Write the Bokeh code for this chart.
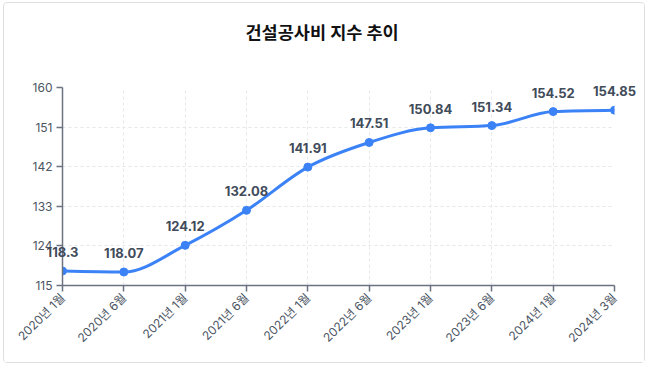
import numpy as np
from bokeh.plotting import figure
from bokeh.models import ColumnDataSource, FixedTicker, Title
from bokeh.core.properties import value
from bokeh.embed import file_html
from bokeh.resources import INLINE

periods = ["2020년 1월", "2020년 6월", "2021년 1월", "2021년 6월", "2022년 1월",
           "2022년 6월", "2023년 1월", "2023년 6월", "2024년 1월", "2024년 3월"]
index_values = [118.3, 118.07, 124.12, 132.08, 141.91, 147.51, 150.84, 151.34, 154.52, 154.85]
y_ticks = [115, 124, 133, 142, 151, 160]
title_text = "건설공사비 지수 추이"

FONT = "Inter, 'Noto Sans CJK KR'"
BLUE = "#3b82f6"

x = np.arange(len(periods), dtype=float)
y = np.array(index_values, dtype=float)

# monotone-x cubic (like d3.curveMonotoneX) tangents
n = len(x)
h = np.diff(x)
s = np.diff(y) / h
t = np.zeros(n)
for i in range(1, n - 1):
    h0, h1 = h[i - 1], h[i]
    s0, s1 = s[i - 1], s[i]
    pp = (s0 * h1 + s1 * h0) / (h0 + h1)
    t[i] = (np.sign(s0) + np.sign(s1)) * min(abs(s0), abs(s1), 0.5 * abs(pp))
t[0] = (3 * s[0] - t[1]) / 2
t[-1] = (3 * s[-1] - t[-2]) / 2

seg = ColumnDataSource(dict(
    x0=x[:-1], y0=y[:-1], x1=x[1:], y1=y[1:],
    cx0=x[:-1] + h / 3, cy0=y[:-1] + h * t[:-1] / 3,
    cx1=x[1:] - h / 3, cy1=y[1:] - h * t[1:] / 3,
))
pts = ColumnDataSource(dict(x=x, y=y, lab=[f"{v:g}" for v in index_values]))

p = figure(width=642, height=361, output_backend="svg", toolbar_location=None,
           title=None,
           x_range=(0, n - 1), y_range=(115, 160),
           min_border_left=58, min_border_right=32, min_border_top=84, min_border_bottom=79,
           background_fill_color="white", border_fill_color="white",
           styles={"border": "1px solid #dedede", "border-radius": "4px",
                   "margin-left": "3px", "margin-top": "2px"})
p.outline_line_color = None

# spacer between the title and the plot area, then the title itself
p.add_layout(Title(text=" ", text_font_size="1px", standoff=27), "above")
p.add_layout(Title(text=title_text, align="left", offset=183, text_font=FONT,
                   text_font_size="17.5px", text_font_style="bold", text_color="#111111",
                   standoff=30), "above")

p.bezier("x0", "y0", "x1", "y1", "cx0", "cy0", "cx1", "cy1", source=seg,
         line_color=BLUE, line_width=3)
p.scatter("x", "y", source=pts, size=8, fill_color=BLUE, line_color=BLUE)
p.text("x", "y", text="lab", source=pts, y_offset=-19, text_align="center",
       text_baseline="middle", text_font=value("Inter"), text_font_size="13px",
       text_font_style="bold", text_color="#414b5a", level="overlay")

p.xaxis.ticker = FixedTicker(ticks=list(x))
p.xaxis.major_label_overrides = {int(i): lab for i, lab in enumerate(periods)}
p.xaxis.major_label_orientation = np.pi / 4
p.yaxis.ticker = FixedTicker(ticks=y_ticks)

for ax in (p.xaxis, p.yaxis):
    ax.axis_line_color = "#6b7280"
    ax.axis_line_width = 1.5
    ax.major_tick_line_color = "#6b7280"
    ax.major_tick_line_width = 1.5
    ax.major_tick_out = 6
    ax.major_tick_in = 0
    ax.minor_tick_line_color = None
    ax.major_label_text_font = FONT
    ax.major_label_text_font_size = "12px"
    ax.major_label_text_color = "#4b5563"
    ax.major_label_standoff = 4

p.xgrid.ticker = FixedTicker(ticks=list(x))
p.ygrid.ticker = FixedTicker(ticks=y_ticks)
for g in (p.xgrid, p.ygrid):
    g.grid_line_color = "#e5e7eb"
    g.grid_line_dash = "3 3"
    g.grid_line_width = 1

open("out.html", "w").write(file_html(p, INLINE))
